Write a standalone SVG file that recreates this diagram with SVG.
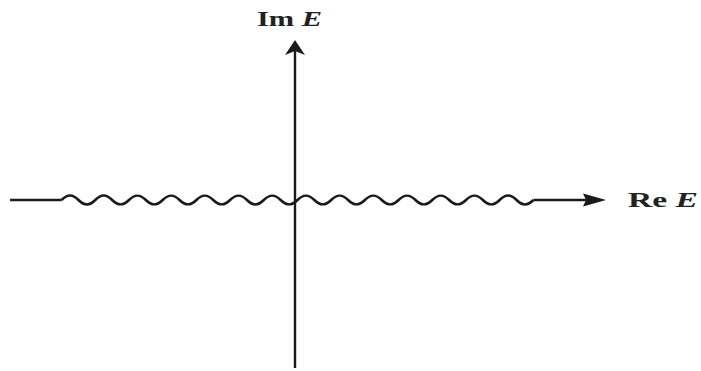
<svg xmlns="http://www.w3.org/2000/svg" width="701" height="371" viewBox="0 0 701 371">
<style>
.ax{stroke:#1a1a1a;stroke-width:2.4;fill:none}
.wave{stroke:#1a1a1a;stroke-width:2.6;fill:none}
.head{fill:#1a1a1a}
.lbl{font-family:"Liberation Serif","Times New Roman",serif;font-size:22px;font-weight:bold;fill:#222}
</style>
<rect width="701" height="371" fill="#ffffff"/>
<g id="connectors">
<path class="ax" d="M10,200 H61.6"/>
<path class="ax" d="M533.5,200 H590"/>
<polygon class="head" points="606,200 583,193.5 586,200 583,206.5"/>
<path class="ax" d="M295,368 V50"/>
<polygon class="head" points="295,40 285,55 295,51 305,55"/>
<path class="wave" d="M61.6,200 c6,-6 10.85,-6 16.85,0 s10.85,6 16.85,0 s10.85,-6 16.85,0 s10.85,6 16.85,0 s10.85,-6 16.85,0 s10.85,6 16.85,0 s10.85,-6 16.85,0 s10.85,6 16.85,0 s10.85,-6 16.85,0 s10.85,6 16.85,0 s10.85,-6 16.85,0 s10.85,6 16.85,0 s10.85,-6 16.85,0 s10.85,6 16.85,0 s10.85,-6 16.85,0 s10.85,6 16.85,0 s10.85,-6 16.85,0 s10.85,6 16.85,0 s10.85,-6 16.85,0 s10.85,6 16.85,0 s10.85,-6 16.85,0 s10.85,6 16.85,0 s10.85,-6 16.85,0 s10.85,6 16.85,0 s10.85,-6 16.85,0 s10.85,6 16.85,0 s10.85,-6 16.85,0 s10.85,6 16.85,0"/>
</g>
<g id="label-im">
<text class="lbl" x="257" y="26" textLength="65" lengthAdjust="spacingAndGlyphs">Im <tspan font-style="italic">E</tspan></text>
</g>
<g id="label-re">
<text class="lbl" x="628" y="207" textLength="70" lengthAdjust="spacingAndGlyphs">Re <tspan font-style="italic">E</tspan></text>
</g>
</svg>
